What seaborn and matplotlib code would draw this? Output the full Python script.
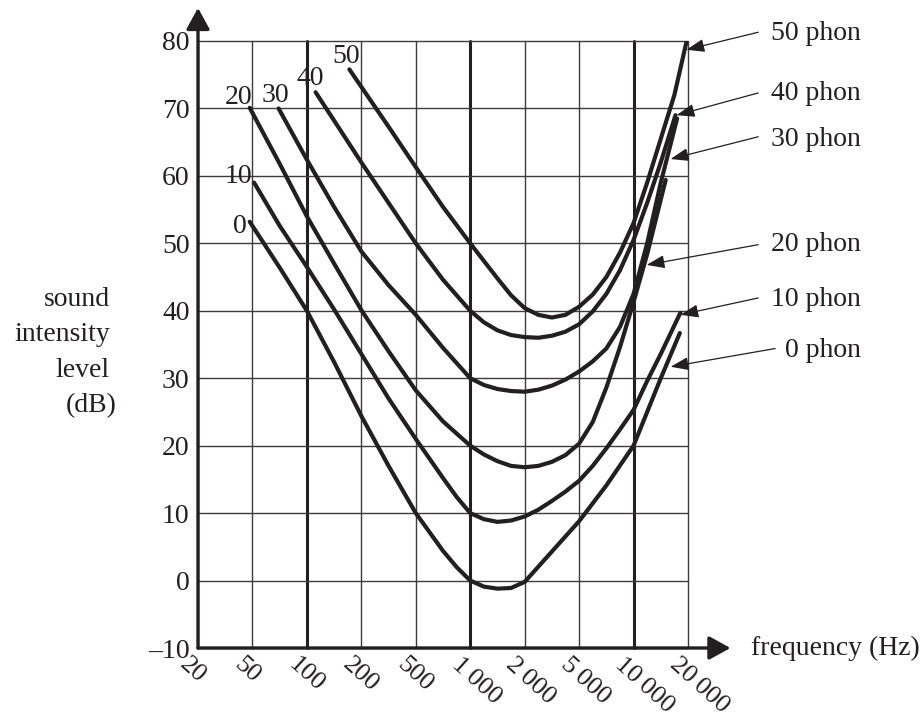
import numpy as np
import pandas as pd
import matplotlib
matplotlib.use('Agg')
import matplotlib.pyplot as plt
import seaborn as sns
from matplotlib.transforms import ScaledTranslation

# --- data (x = tick position: 0 -> 20 Hz ... 9 -> 20 000 Hz) ---
freq_labels = ['20', '50', '100', '200', '500', '1\u2009000', '2\u2009000',
               '5\u2009000', '10\u2009000', '20\u2009000']
db_ticks = list(range(-10, 90, 10))
thick_positions = [2, 5, 8]          # 100 Hz, 1000 Hz, 10 000 Hz

phon_0_x = [0.95, 1.5, 2.0, 2.5, 3.0, 3.5, 4.0, 4.5, 4.75, 5.0, 5.25, 5.5, 5.75, 6.0,
            6.5, 7.0, 7.5, 8.0, 8.25, 8.5, 8.85]
phon_0_y = [53.2, 46.4, 40.0, 32.4, 24.4, 17.0, 10.0, 4.4, 2.0, 0.0, -0.9, -1.2, -1.1, -0.2,
            4.3, 8.8, 14.1, 20.0, 25.0, 30.0, 36.7]

phon_10_x = [1.03, 1.5, 2.0, 2.5, 3.0, 3.5, 4.0, 4.5, 4.75, 5.0, 5.25, 5.5, 5.75, 6.0,
             6.25, 6.5, 6.75, 7.0, 7.25, 7.5, 7.75, 8.0, 8.25, 8.5, 8.86]
phon_10_y = [59.0, 52.6, 46.5, 40.2, 33.6, 27.0, 21.0, 15.2, 12.4, 10.0, 9.1, 8.7, 8.9, 9.5,
             10.5, 11.8, 13.2, 14.8, 17.0, 19.6, 22.4, 25.3, 29.6, 33.6, 39.7]

phon_20_x = [0.95, 1.5, 2.0, 2.5, 3.0, 3.5, 4.0, 4.5, 5.0, 5.25, 5.5, 5.75, 6.0, 6.25,
             6.5, 6.75, 7.0, 7.25, 7.5, 7.75, 8.0, 8.25, 8.59]
phon_20_y = [70.1, 61.8, 54.0, 47.0, 40.1, 34.0, 28.2, 23.6, 20.0, 18.7, 17.7, 17.0, 16.8, 17.0,
             17.6, 18.6, 20.3, 23.5, 28.6, 34.6, 41.3, 48.4, 59.4]

phon_30_x = [1.48, 2.0, 2.5, 3.0, 3.5, 4.0, 4.5, 5.0, 5.25, 5.5, 5.75, 6.0, 6.25, 6.5,
             6.75, 7.0, 7.25, 7.5, 7.75, 8.0, 8.25, 8.5, 8.8]
phon_30_y = [70.0, 62.4, 55.4, 48.8, 43.8, 39.4, 34.5, 30.0, 29.0, 28.4, 28.1, 28.0, 28.3, 28.9,
             29.8, 31.0, 32.5, 34.4, 37.6, 42.5, 50.0, 59.0, 68.5]

phon_40_x = [2.16, 2.5, 3.0, 3.5, 4.0, 4.5, 5.0, 5.25, 5.5, 5.75, 6.0, 6.25, 6.5, 6.75,
             7.0, 7.25, 7.5, 7.75, 8.0, 8.25, 8.5, 8.77]
phon_40_y = [72.4, 68.2, 62.0, 56.0, 50.0, 44.6, 40.0, 38.3, 37.1, 36.4, 36.1, 36.0, 36.3, 36.9,
             38.0, 39.9, 42.5, 46.0, 50.5, 56.0, 62.0, 69.0]

phon_50_x = [2.78, 3.0, 3.5, 4.0, 4.5, 5.0, 5.5, 5.75, 6.0, 6.25, 6.5, 6.75, 7.0, 7.25,
             7.5, 7.75, 8.0, 8.25, 8.5, 8.75, 8.97]
phon_50_y = [75.8, 73.2, 67.3, 61.3, 55.4, 50.0, 44.8, 42.3, 40.4, 39.4, 39.0, 39.4, 40.6, 42.4,
             45.0, 48.6, 53.0, 59.0, 65.5, 72.0, 79.8]

curve_names = ['0', '10', '20', '30', '40', '50']
curves = {
    '0': (phon_0_x, phon_0_y),
    '10': (phon_10_x, phon_10_y),
    '20': (phon_20_x, phon_20_y),
    '30': (phon_30_x, phon_30_y),
    '40': (phon_40_x, phon_40_y),
    '50': (phon_50_x, phon_50_y),
}

# small labels at the left end of each curve (text, x, y, alignment)
start_labels = [('0', 0.90, 51.6, 'right'), ('10', 0.99, 59.0, 'right'),
                ('20', 0.99, 70.7, 'right'), ('30', 1.43, 71.0, 'center'),
                ('40', 2.07, 73.5, 'center'), ('50', 2.72, 76.7, 'center')]

# right-hand callouts: text, arrow tip (on curve), arrow tail, text baseline
callouts = [('50 phon', (8.97, 78.7), (10.29, 81.3), 80.1),
            ('40 phon', (8.79, 69.0), (10.29, 72.3), 71.2),
            ('30 phon', (8.68, 62.5), (10.29, 65.8), 64.4),
            ('20 phon', (8.24, 46.8), (10.29, 49.8), 48.8),
            ('10 phon', (8.86, 39.4), (10.29, 41.9), 40.7),
            ('0 phon', (8.68, 31.7), (10.60, 34.4), 33.2)]

rows = []
for name in curve_names:
    xs, ys = curves[name]
    for k, (x, y) in enumerate(zip(xs, ys)):
        rows.append({'phon': name, 'order': k, 'pos': x, 'db': y})
df = pd.DataFrame(rows)

# --- style ---
sns.set_theme(style='white')
plt.rcParams['font.family'] = ['Liberation Serif', 'DejaVu Serif']
plt.rcParams['font.size'] = 20

INK = '#231f20'
GRID = '#3c3c3c'

fig = plt.figure(figsize=(9.24, 7.2), dpi=100)
ax = fig.add_axes([198 / 924, 72 / 720, 490 / 924, 607 / 720])

# grid
for i in range(len(freq_labels)):
    lw = 2.2 if i in thick_positions else 1.0
    col = INK if i in thick_positions else GRID
    ax.plot([i, i], [-10, 80], color=col, lw=lw, zorder=1, clip_on=False)
for v in db_ticks:
    ax.plot([0, 9], [v, v], color=GRID, lw=1.0, zorder=1, clip_on=False)

sns.lineplot(data=df, x='pos', y='db', hue='phon', units='phon',
             palette={n: INK for n in curve_names}, estimator=None, sort=False,
             legend=False, lw=3.0, ax=ax, zorder=3, solid_joinstyle='round')

ax.set_xlim(0, 9)
ax.set_ylim(-10, 80)
ax.set_xlabel('')
ax.set_ylabel('')
for s in ax.spines.values():
    s.set_visible(False)
ax.grid(False)

ax.set_yticks(db_ticks)
ax.set_yticklabels([str(v).replace('-', '\u2013') for v in db_ticks], fontsize=20)
ax.set_xticks(range(len(freq_labels)))
ax.set_xticklabels(freq_labels, rotation=-42, ha='left', va='top',
                   rotation_mode='anchor', fontsize=19)
ax.tick_params(axis='both', length=0, colors=INK)
ax.tick_params(axis='y', pad=6)
ax.tick_params(axis='x', pad=4)
shift = ScaledTranslation(-8 / 100, 0, fig.dpi_scale_trans)
for lab in ax.get_xticklabels():
    lab.set_transform(lab.get_transform() + shift)

# axes with arrow heads
axis_arrow = dict(arrowstyle='-|>,head_length=1.0,head_width=0.55', color=INK,
                  lw=2.4, mutation_scale=13, shrinkA=0, shrinkB=0)
ax.annotate('', xy=(0, 84.9), xytext=(0, -10), arrowprops=axis_arrow,
            annotation_clip=False, zorder=5)
ax.annotate('', xy=(9.78, -10), xytext=(0, -10), arrowprops=axis_arrow,
            annotation_clip=False, zorder=5)

# curve start labels
for txt, x, y, ha in start_labels:
    ax.text(x, y, txt, ha=ha, va='baseline', fontsize=20, color=INK, zorder=4)

# right-hand callouts
thin_arrow = dict(arrowstyle='-|>,head_length=1.1,head_width=0.4', color=INK,
                  lw=0.9, mutation_scale=10, shrinkA=0, shrinkB=0)
for txt, tip, tail, base in callouts:
    ax.annotate('', xy=tip, xytext=tail, arrowprops=thin_arrow,
                annotation_clip=False, zorder=5)
    ax.text(12.18, base, txt, ha='right', va='baseline', fontsize=20,
            color=INK, clip_on=False)

ax.text(10.15, -11.1, 'frequency (Hz)', ha='left', va='baseline', fontsize=20,
        color=INK, clip_on=False)

# y axis title, right aligned lines
for txt, x, base in [('sound', 110, 306), ('intensity', 110, 341),
                     ('level', 110, 377), ('(dB)', 117, 412)]:
    fig.text(x / 924, 1 - base / 720, txt, ha='right', va='baseline',
             fontsize=20, color=INK)

fig.savefig('out.png', dpi=100)
plt.close(fig)
